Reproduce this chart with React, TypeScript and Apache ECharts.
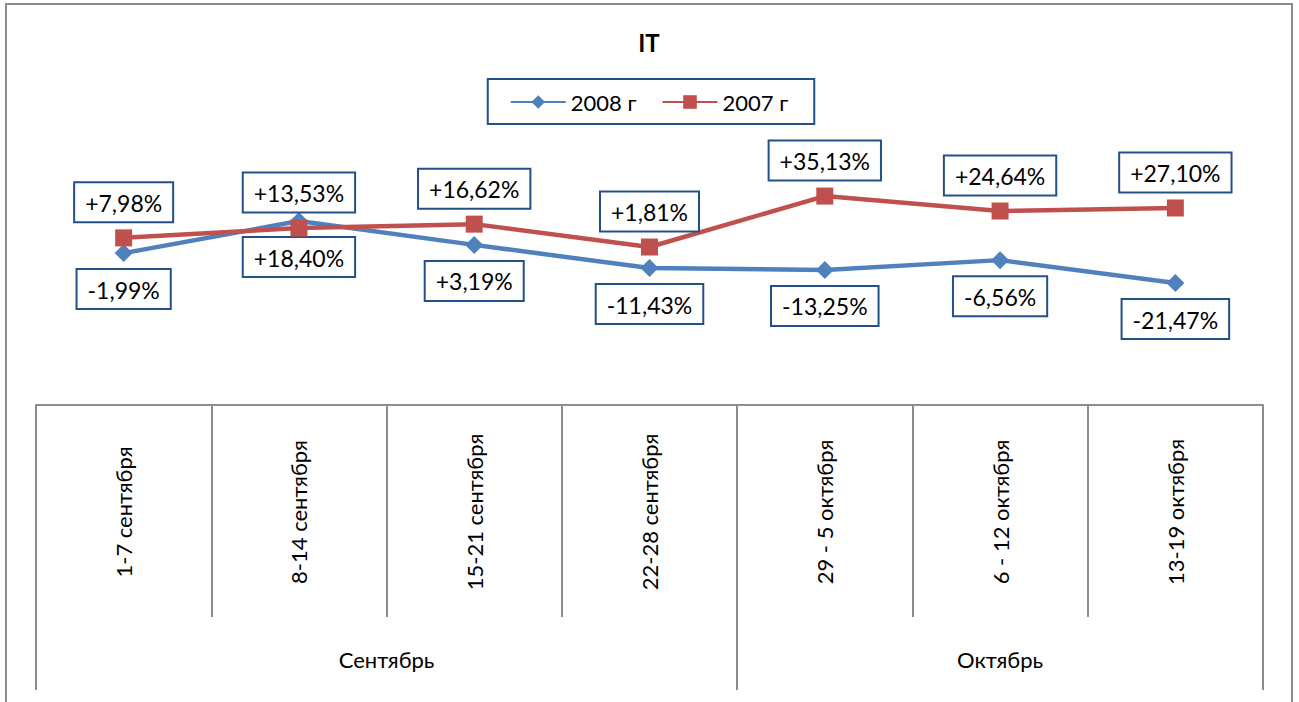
import React, { useEffect, useRef } from "react";
import * as echarts from "echarts";

const weeks = [
  "1-7 сентября",
  "8-14 сентября",
  "15-21 сентября",
  "22-28 сентября",
  "29 - 5 октября",
  "6 - 12 октября",
  "13-19 октября",
];
const months = ["Сентябрь", "Октябрь"];
const monthSpans = [4, 3];

const values2008 = [49.8, 60.3, 52.5, 44.9, 44.3, 47.5, 40.0];
const values2007 = [54.8, 58.0, 59.3, 51.8, 68.5, 63.6, 64.6];

const labels2008 = ["-1,99%", "+18,40%", "+3,19%", "-11,43%", "-13,25%", "-6,56%", "-21,47%"];
const labels2007 = ["+7,98%", "+13,53%", "+16,62%", "+1,81%", "+35,13%", "+24,64%", "+27,10%"];

const FONT = 'Lato, "Open Sans", sans-serif';
const BOX = "#24508A";
const AXIS = "#8C8C8C";

export default function App() {
  const ref = useRef<HTMLDivElement>(null);
  useEffect(() => {
    document.documentElement.style.overflow = "hidden";
    document.body.style.overflow = "hidden";
    const chart = echarts.init(ref.current!, null, { renderer: "svg" });

    const boundaries: number[] = [0];
    const mids: number[] = [];
    let acc = 0;
    monthSpans.forEach((s) => {
      mids.push(acc + s / 2);
      acc += s;
      boundaries.push(acc);
    });

    const labelStyle = (arr: string[], pos: "top" | "bottom") => ({
      show: true,
      position: pos,
      distance: 8,
      formatter: (p: any) => arr[p.dataIndex],
      backgroundColor: "#fff",
      borderColor: BOX,
      borderWidth: 2,
      padding: [8, 10, 7, 10],
      fontSize: 23,
      fontFamily: FONT,
      color: "#000",
    });

    chart.setOption({
      animation: false,
      backgroundColor: "#fff",
      title: {
        text: "IT",
        left: "center",
        top: 20,
        textStyle: { fontSize: 24, fontWeight: "bold", fontFamily: FONT, color: "#000" },
      },
      legend: {
        top: 74,
        left: "center",
        borderColor: BOX,
        borderWidth: 2,
        padding: [12, 26, 11, 22],
        itemWidth: 55,
        itemHeight: 17,
        itemGap: 25,
        textStyle: { fontSize: 22, fontFamily: FONT, color: "#000" },
        data: ["2008 г", "2007 г"],
      },
      grid: { left: 29, right: 28, top: 95, bottom: 316, containLabel: false },
      xAxis: [
        {
          type: "category",
          data: weeks,
          boundaryGap: true,
          axisLine: { show: true, lineStyle: { color: AXIS, width: 2 } },
          axisTick: { show: true, interval: 0, length: 212, lineStyle: { color: AXIS, width: 2 } },
          axisLabel: {
            interval: 0,
            rotate: 90,
            align: "center",
            verticalAlign: "middle",
            margin: 107,
            fontSize: 22,
            fontFamily: FONT,
            color: "#000",
          },
        },
        {
          type: "value",
          position: "bottom",
          min: 0,
          max: weeks.length,
          axisLine: { show: false },
          splitLine: { show: false },
          axisTick: {
            show: true,
            customValues: boundaries,
            length: 285,
            lineStyle: { color: AXIS, width: 2 },
          },
          axisLabel: {
            show: true,
            customValues: mids,
            formatter: (v: number) => months[mids.indexOf(v)] ?? "",
            margin: 243,
            fontSize: 22,
            fontFamily: FONT,
            color: "#000",
          },
        },
      ],
      yAxis: { type: "value", min: 0, max: 100, show: false, splitLine: { show: false } },
      series: [
        {
          name: "2008 г",
          type: "line",
          data: values2008,
          xAxisIndex: 0,
          symbol: "diamond",
          symbolSize: 18,
          color: "#4F81BD",
          lineStyle: { width: 4.5, color: "#4F81BD" },
          itemStyle: { color: "#4F81BD" },
          label: labelStyle(labels2008, "bottom"),
          z: 2,
        },
        {
          name: "2007 г",
          type: "line",
          data: values2007,
          xAxisIndex: 0,
          symbol: "rect",
          symbolSize: 17,
          color: "#C0504D",
          lineStyle: { width: 4.5, color: "#C0504D" },
          itemStyle: { color: "#C0504D" },
          label: labelStyle(labels2007, "top"),
          z: 3,
        },
      ],
    });
    return () => chart.dispose();
  }, []);

  return (
    <div
      style={{
        position: "absolute",
        left: 5,
        top: 3,
        width: 1288,
        height: 720,
        border: "2px solid #8C8C8C",
        boxSizing: "border-box",
        background: "#fff",
      }}
    >
      <div ref={ref} style={{ position: "absolute", left: 0, top: 0, width: 1284, height: 716 }} />
    </div>
  );
}
